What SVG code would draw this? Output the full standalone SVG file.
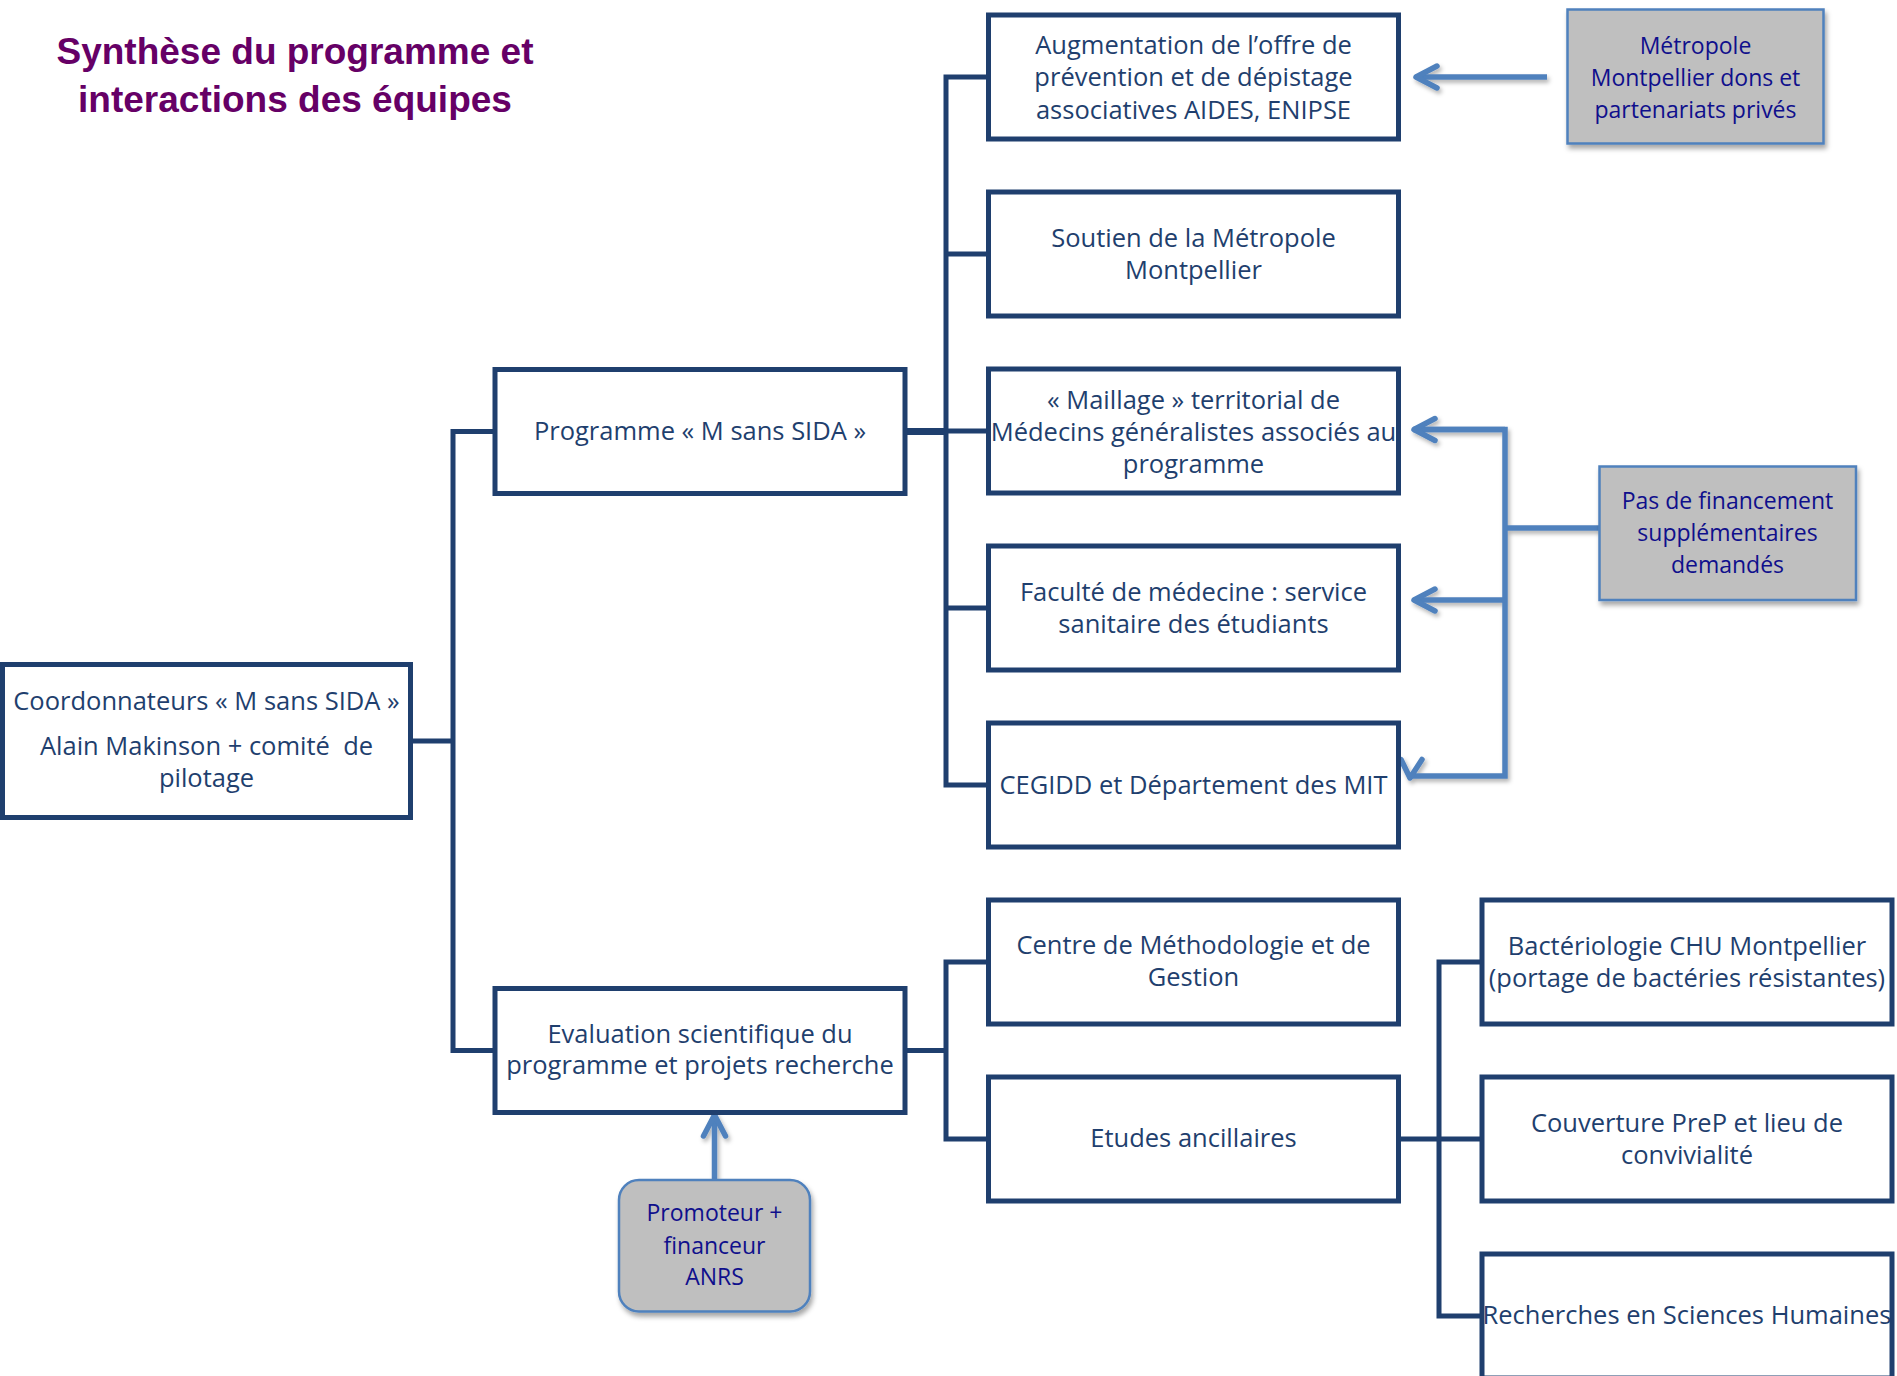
<svg xmlns="http://www.w3.org/2000/svg" width="1897" height="1376" viewBox="0 0 1897 1376">
<style>
.box{fill:#fff;stroke:#1F3F6E;stroke-width:5;stroke-linejoin:miter}
.gbox{fill:#BFBFBF;stroke:#4F81BD;stroke-width:2.5}
.t{font-family:"Open Sans","Noto Sans",sans-serif;font-size:25.5px;fill:#1F3F6E;text-anchor:middle}
.gt{font-family:"Open Sans","Noto Sans",sans-serif;font-size:23px;fill:#0F0F8C;text-anchor:middle}
.title{font-family:"Liberation Sans",Arial,sans-serif;font-weight:bold;font-size:37px;fill:#660066;text-anchor:middle}
.dk{fill:none;stroke:#1F3F6E;stroke-width:5;stroke-linecap:square;stroke-linejoin:miter}
.lb{fill:none;stroke:#4F81BD;stroke-width:5.5;stroke-linejoin:miter}
</style>
<defs>
<filter id="sh" x="-10%" y="-10%" width="125%" height="130%">
<feDropShadow dx="2" dy="4" stdDeviation="2.5" flood-color="#000" flood-opacity="0.35"/>
</filter>
<filter id="lsh" filterUnits="userSpaceOnUse" x="0" y="0" width="1897" height="1376">
<feDropShadow dx="2" dy="3" stdDeviation="2" flood-color="#000" flood-opacity="0.3"/>
</filter>
<marker id="chev" markerUnits="userSpaceOnUse" viewBox="-28 -16 32 32" refX="0" refY="0" markerWidth="32" markerHeight="32" orient="auto" overflow="visible">
<path d="M-21,-11 L0,0 L-21,11" fill="none" stroke="#4F81BD" stroke-width="5.5" stroke-linecap="round" stroke-linejoin="round"/>
</marker>
</defs>

<rect width="1897" height="1376" fill="#fff"/>

<g id="title">
<text class="title" x="295" y="64">Synthèse du programme et</text>
<text class="title" x="295" y="112">interactions des équipes</text>
</g>

<g id="connectors">
<g id="tree">
<path class="dk" d="M413,741 H453 M453,431.5 V1050.5 M453,431.5 H495 M453,1050.5 H495"/>
<path class="dk" d="M946,77 V785 M946,77 H988 M946,254 H988 M946,431 H988 M946,608 H988 M946,785 H988"/>
<path d="M905,431.5 H946" stroke="#1F3F6E" stroke-width="7" fill="none"/>
<path class="dk" d="M905,1050.5 H946 M946,962 V1139 M946,962 H988 M946,1139 H988"/>
<path class="dk" d="M1398,1139 H1439 M1439,962 V1316 M1439,962 H1482 M1439,1139 H1482 M1439,1316 H1482"/>
</g>
<g id="feedback" filter="url(#lsh)">
<path class="lb" d="M1547,77 H1416" marker-end="url(#chev)"/>
<path class="lb" d="M1599,528 H1505"/>
<path class="lb" d="M1413,429.5 H1505 V776 H1410"/>
<path class="lb" d="M1505,429.5 H1414" marker-end="url(#chev)"/>
<path class="lb" d="M1505,600 H1414" marker-end="url(#chev)"/>
<path d="M1401,759.5 L1410,778 L1422,759.5" fill="none" stroke="#4F81BD" stroke-width="5.5" stroke-linecap="round" stroke-linejoin="round"/>
<path class="lb" d="M714.5,1179 V1115" marker-end="url(#chev)"/>
</g>
</g>

<g id="n-coord">
<rect class="box" x="2.5" y="664.5" width="408" height="153"/>
<text class="t" x="206.5" y="710">Coordonnateurs « M sans SIDA »</text>
<text class="t" x="206.5" y="755" xml:space="preserve">Alain Makinson + comité  de</text>
<text class="t" x="206.5" y="787">pilotage</text>
</g>

<g id="n-programme">
<rect class="box" x="495" y="369.5" width="410" height="124"/>
<text class="t" x="700" y="439.5">Programme « M sans SIDA »</text>
</g>

<g id="n-evaluation">
<rect class="box" x="495" y="988.5" width="410" height="124"/>
<text class="t" x="700" y="1042.5">Evaluation scientifique du</text>
<text class="t" x="700" y="1074">programme et projets recherche</text>
</g>

<g id="n-augmentation">
<rect class="box" x="988.5" y="15" width="410" height="124"/>
<text class="t" x="1193.5" y="53.5">Augmentation de l’offre de</text>
<text class="t" x="1193.5" y="86">prévention et de dépistage</text>
<text class="t" x="1193.5" y="118.5">associatives AIDES, ENIPSE</text>
</g>

<g id="n-soutien">
<rect class="box" x="988.5" y="192" width="410" height="124"/>
<text class="t" x="1193.5" y="247">Soutien de la Métropole</text>
<text class="t" x="1193.5" y="279">Montpellier</text>
</g>

<g id="n-maillage">
<rect class="box" x="988.5" y="369" width="410" height="124"/>
<text class="t" x="1193.5" y="408.5">« Maillage » territorial de</text>
<text class="t" x="1193.5" y="440.5">Médecins généralistes associés au</text>
<text class="t" x="1193.5" y="472.5">programme</text>
</g>

<g id="n-faculte">
<rect class="box" x="988.5" y="546" width="410" height="124"/>
<text class="t" x="1193.5" y="601">Faculté de médecine : service</text>
<text class="t" x="1193.5" y="632.5">sanitaire des étudiants</text>
</g>

<g id="n-cegidd">
<rect class="box" x="988.5" y="723" width="410" height="124"/>
<text class="t" x="1193.5" y="793.5">CEGIDD et Département des MIT</text>
</g>

<g id="n-centre">
<rect class="box" x="988.5" y="900" width="410" height="124"/>
<text class="t" x="1193.5" y="954">Centre de Méthodologie et de</text>
<text class="t" x="1193.5" y="986">Gestion</text>
</g>

<g id="n-etudes">
<rect class="box" x="988.5" y="1077" width="410" height="124"/>
<text class="t" x="1193.5" y="1147">Etudes ancillaires</text>
</g>

<g id="n-bacterio">
<rect class="box" x="1482" y="900" width="410" height="124"/>
<text class="t" x="1687" y="955">Bactériologie CHU Montpellier</text>
<text class="t" x="1687" y="987">(portage de bactéries résistantes)</text>
</g>

<g id="n-couverture">
<rect class="box" x="1482" y="1077" width="410" height="124"/>
<text class="t" x="1687" y="1131.5">Couverture PreP et lieu de</text>
<text class="t" x="1687" y="1163.5">convivialité</text>
</g>

<g id="n-recherches">
<rect class="box" x="1482" y="1254" width="410" height="124"/>
<text class="t" x="1687" y="1323.5">Recherches en Sciences Humaines</text>
</g>

<g id="n-metropole">
<rect class="gbox" x="1567.5" y="9.5" width="256" height="134" filter="url(#sh)"/>
<text class="gt" x="1695.5" y="54">Métropole</text>
<text class="gt" x="1695.5" y="86">Montpellier dons et</text>
<text class="gt" x="1695.5" y="117.5">partenariats privés</text>
</g>

<g id="n-pasfinancement">
<rect class="gbox" x="1599.5" y="466.5" width="256.5" height="133.5" filter="url(#sh)"/>
<text class="gt" x="1727.5" y="508.5">Pas de financement</text>
<text class="gt" x="1727.5" y="541">supplémentaires</text>
<text class="gt" x="1727.5" y="572.5">demandés</text>
</g>

<g id="n-promoteur">
<rect class="gbox" x="619" y="1180" width="191" height="131.5" rx="20" ry="20" filter="url(#sh)"/>
<text class="gt" x="714.5" y="1221">Promoteur +</text>
<text class="gt" x="714.5" y="1253.5">financeur</text>
<text class="gt" x="714.5" y="1285">ANRS</text>
</g>
</svg>
